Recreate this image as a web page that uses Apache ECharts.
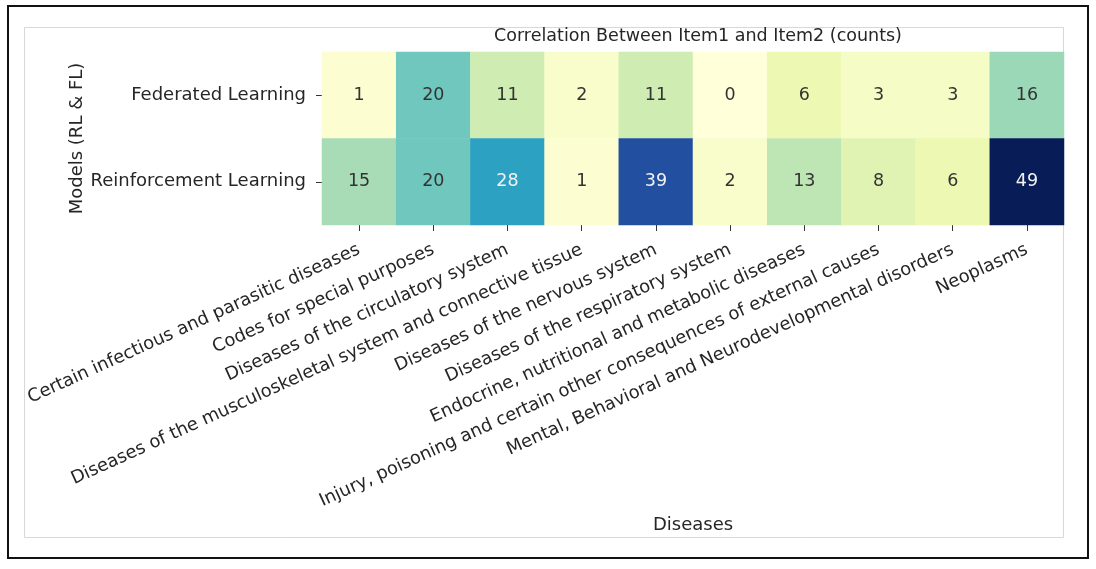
<!DOCTYPE html>
<html>
<head>
<meta charset="utf-8">
<script src="https://cdn.jsdelivr.net/npm/echarts@6/dist/echarts.min.js"></script>
<style>html,body{margin:0;padding:0;background:#fff;}#c{width:1096px;height:569px;}</style>
</head>
<body>
<div id="c"></div>
<script>
const diseases = [
  'Certain infectious and parasitic diseases',
  'Codes for special purposes',
  'Diseases of the circulatory system',
  'Diseases of the musculoskeletal system and connective tissue',
  'Diseases of the nervous system',
  'Diseases of the respiratory system',
  'Endocrine, nutritional and metabolic diseases',
  'Injury, poisoning and certain other consequences of external causes',
  'Mental, Behavioral and Neurodevelopmental disorders',
  'Neoplasms'
];
const models = ['Federated Learning', 'Reinforcement Learning'];
const federated = [1, 20, 11, 2, 11, 0, 6, 3, 3, 16];
const reinforcement = [15, 20, 28, 1, 39, 2, 13, 8, 6, 49];
const titleText = 'Correlation Between Item1 and Item2 (counts)';

const rows = [federated, reinforcement];
const vmax = Math.max(...federated, ...reinforcement);
const vmin = Math.min(...federated, ...reinforcement);
const data = [];
rows.forEach((row, r) => row.forEach((v, c) => data.push({
  value: [c, r, v],
  label: {color: v / vmax > 0.55 ? '#f2f2f2' : '#333'}
})));
const ylgnbu = ['#ffffd9','#edf8b1','#c7e9b4','#7fcdbb','#41b6c4','#1d91c0','#225ea8','#253494','#081d58'];

const chart = echarts.init(document.getElementById('c'));
chart.setOption({
  backgroundColor: '#fff',
  textStyle: {fontFamily: 'DejaVu Sans'},
  title: {
    text: titleText, left: 693, top: 22, textAlign: 'center',
    textStyle: {fontFamily: 'DejaVu Sans', fontSize: 17.5, fontWeight: 'normal', color: '#262626'}
  },
  graphic: [
    {type: 'rect', shape: {x: 8, y: 6, width: 1080, height: 552}, style: {fill: 'none', stroke: '#111', lineWidth: 2}, z: -1},
    {type: 'rect', shape: {x: 24.5, y: 27.5, width: 1039, height: 510}, style: {fill: 'none', stroke: '#d8d8d8', lineWidth: 1}, z: -1}
  ],
  grid: {left: 322, right: 32, top: 52, bottom: 344},
  xAxis: {
    type: 'category', data: diseases,
    name: 'Diseases', nameLocation: 'middle', nameGap: 291, nameMoveOverlap: false,
    nameTextStyle: {fontSize: 18, color: '#262626'},
    axisLine: {show: false},
    axisTick: {show: true, alignWithLabel: true, length: 6, lineStyle: {color: '#333'}},
    axisLabel: {rotate: 24.4, interval: 0, fontSize: 17.9, color: '#262626', margin: 24},
    splitArea: {show: false}
  },
  yAxis: {
    type: 'category', data: models, inverse: true,
    name: 'Models (RL & FL)', nameLocation: 'middle', nameGap: 236, nameRotate: 90, nameMoveOverlap: false,
    nameTextStyle: {fontSize: 18, color: '#262626'},
    axisLine: {show: false},
    axisTick: {show: true, alignWithLabel: true, length: 6, lineStyle: {color: '#333'}},
    axisLabel: {fontSize: 18, color: '#262626', margin: 16}
  },
  visualMap: {
    show: false, min: vmin, max: vmax, dimension: 2,
    inRange: {color: ylgnbu}
  },
  series: [{
    type: 'heatmap', data: data,
    label: {show: true, fontSize: 17.5, formatter: p => String(p.value[2])},
    emphasis: {disabled: true},
    itemStyle: {borderWidth: 0}
  }]
});
</script>
</body>
</html>
